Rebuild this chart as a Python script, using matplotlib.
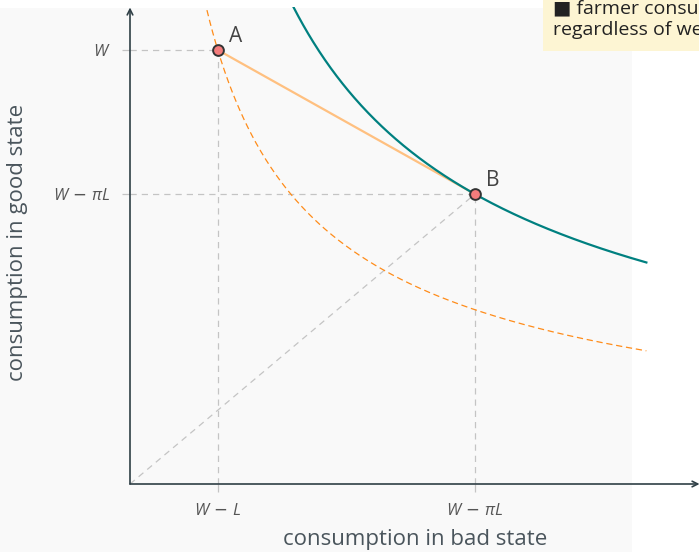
import numpy as np
import matplotlib
matplotlib.use("Agg")
import matplotlib.pyplot as plt
from matplotlib.patches import Rectangle

# model parameters
wealth = 100.0      # W
loss = 83.0         # L
prob_bad = 0.4      # pi
x_tick_labels = [r"$W\,-\,L$", r"$W\,-\,\pi L$"]
y_tick_labels = [r"$W$", r"$W\,-\,\pi L$"]
point_names = ["A", "B"]
note_lines = ["\u25a0 farmer consumes the same", "regardless of weather"]

plt.rcParams["font.family"] = ["Open Sans", "DejaVu Sans"]
plt.rcParams["mathtext.fontset"] = "custom"
plt.rcParams["mathtext.it"] = "Open Sans:italic"
plt.rcParams["mathtext.rm"] = "DejaVu Sans"

FW, FH = 699, 552
fig = plt.figure(figsize=(FW / 100, FH / 100), dpi=100)


def px(x0, y0, x1, y1):
    """Figure-fraction rect from pixel box (top-left origin)."""
    return [x0 / FW, 1 - y1 / FH, (x1 - x0) / FW, (y1 - y0) / FH]


# light gray panel behind the chart
fig.patches.append(Rectangle((0, 0), 632 / FW, 1 - 8 / FH, transform=fig.transFigure,
                             facecolor="#f9f9f9", edgecolor="none", zorder=-5))

ax = fig.add_axes(px(130, 6.6, 698, 484))
ax.set_facecolor("none")
ax.set_zorder(1)
ax.set_xlim(0, 110)
ax.set_ylim(0, 110)
for s in ax.spines.values():
    s.set_visible(False)

bad_b = wealth - prob_bad * loss   # certain consumption at B
bad_a = wealth - loss              # bad-state consumption at A
good_a = wealth

axis_col = "#2f3f46"
grid_col = "#c4c4c4"
text_col = "#4a555c"

# axes with arrows
ax.annotate("", xy=(110.3, 0), xytext=(0, 0), annotation_clip=False,
            arrowprops=dict(arrowstyle="->", color=axis_col, lw=1.2, shrinkA=0, shrinkB=0))
ax.annotate("", xy=(0, 109.8), xytext=(0, 0), annotation_clip=False,
            arrowprops=dict(arrowstyle="->", color=axis_col, lw=1.2, shrinkA=0, shrinkB=0))

# guide lines
dash = dict(color=grid_col, lw=0.9, ls=(0, (5, 4)), zorder=1)
ax.plot([0, bad_a], [good_a, good_a], **dash)
ax.plot([bad_a, bad_a], [0, good_a], **dash)
ax.plot([0, bad_b], [bad_b, bad_b], **dash)
ax.plot([bad_b, bad_b], [0, bad_b], **dash)
ax.plot([0, bad_b], [0, bad_b], **dash)

# indifference curves from expected log utility
def indiff(x, cb, cg):
    u = prob_bad * np.log(cb) + (1 - prob_bad) * np.log(cg)
    return np.exp((u - prob_bad * np.log(x)) / (1 - prob_bad))

xs = np.linspace(5, 100, 500)
yb = indiff(xs, bad_b, bad_b)
m = yb <= 110
ax.plot(xs[m], yb[m], color="#008080", lw=1.6, zorder=3)
ya = indiff(xs, bad_a, good_a)
m = ya <= 110
ax.plot(xs[m], ya[m], color="#ff8c1a", lw=0.9, ls=(0, (5, 3)), zorder=3)

# fair insurance line
ax.plot([bad_a, bad_b], [good_a, bad_b], color="#ffc080", lw=1.6, zorder=2)

ax.scatter([bad_a, bad_b], [good_a, bad_b], s=60, facecolor="#f47c7c",
           edgecolor="#333333", linewidth=1.4, zorder=5)
for name, x, y in zip(point_names, [bad_a, bad_b], [good_a, bad_b]):
    ax.annotate(name, (x, y), xytext=(8, 6), textcoords="offset points",
                fontsize=15, color="#444444")

# ticks
ax.set_xticks([bad_a, bad_b])
ax.set_xticklabels(x_tick_labels, fontsize=12, color="#555555")
ax.set_yticks([good_a, bad_b])
ax.set_yticklabels(y_tick_labels, fontsize=12, color="#555555")
ax.tick_params(length=6, width=0.9, color=grid_col, pad=8)

fig.text(415 / FW, 1 - 540 / FH, "consumption in bad state", ha="center", va="center",
         fontsize=16, color=text_col)
fig.text(18 / FW, 1 - 242 / FH, "consumption in good state", ha="center", va="center",
         rotation=90, fontsize=16, color=text_col)

# note box clipped by the right edge
fig.patches.append(Rectangle((543 / FW, 1 - 51 / FH), 1, 51 / FH, transform=fig.transFigure,
                             facecolor="#fdf5d3", edgecolor="none", zorder=6))
fig.text(553 / FW, 1 - 8 / FH, note_lines[0], fontsize=14, color="#222222",
         va="center", zorder=7)
fig.text(553 / FW, 1 - 30 / FH, note_lines[1], fontsize=14, color="#222222",
         va="center", zorder=7)

fig.savefig("out.png", dpi=100)
